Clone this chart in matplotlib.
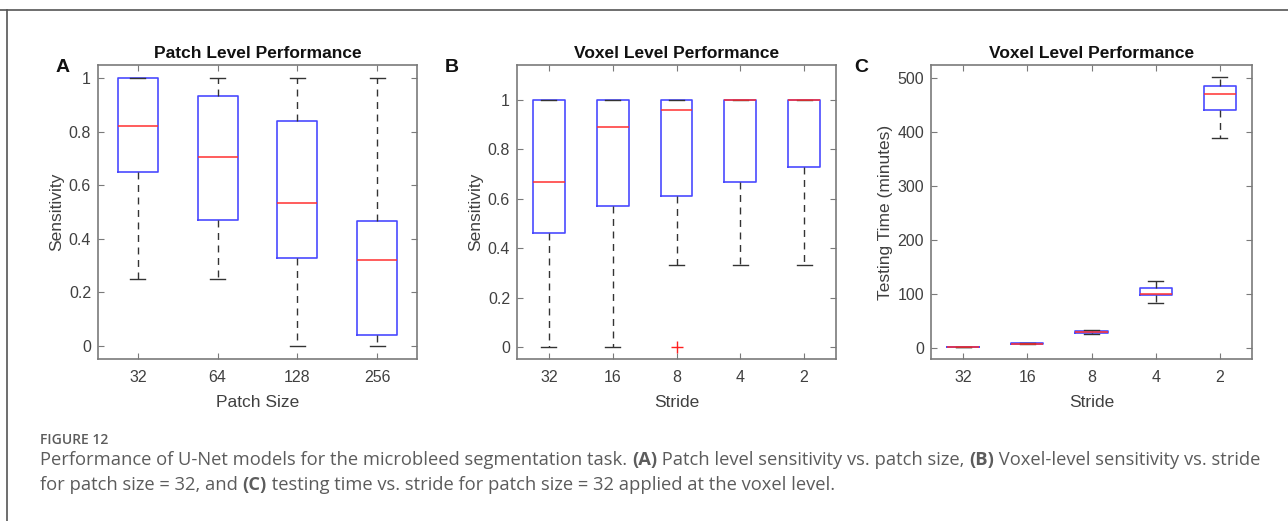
import numpy as np
import matplotlib.pyplot as plt
from matplotlib.lines import Line2D

plt.rcParams['font.family'] = ['Liberation Sans', 'DejaVu Sans']

# Panel A: patch level sensitivity vs patch size
a_labels = ['32', '64', '128', '256']
a_med = [0.82, 0.705, 0.535, 0.32]
a_q1 = [0.65, 0.47, 0.33, 0.04]
a_q3 = [1.0, 0.935, 0.84, 0.465]
a_lo = [0.25, 0.25, 0.0, 0.0]
a_hi = [1.0, 1.0, 1.0, 1.0]
a_fliers = [[], [], [], []]

# Panel B: voxel level sensitivity vs stride
b_labels = ['32', '16', '8', '4', '2']
b_med = [0.667, 0.89, 0.96, 1.0, 1.0]
b_q1 = [0.46, 0.57, 0.613, 0.667, 0.73]
b_q3 = [1.0, 1.0, 1.0, 1.0, 1.0]
b_lo = [0.0, 0.0, 0.333, 0.333, 0.333]
b_hi = [1.0, 1.0, 1.0, 1.0, 1.0]
b_fliers = [[], [], [0.0], [], []]

# Panel C: testing time (minutes) vs stride
c_labels = ['32', '16', '8', '4', '2']
c_med = [2, 8, 30, 100, 471]
c_q1 = [2, 7, 28, 98, 441]
c_q3 = [2, 9, 32, 112, 486]
c_lo = [2, 7, 26, 84, 389]
c_hi = [2, 10, 34, 124, 501]
c_fliers = [[], [], [], [], []]

W, H = 1288, 521
fig = plt.figure(figsize=(W / 100, H / 100), dpi=100)

frame_col = '#7a7a7a'
txt_col = '#404040'


def make_stats(labels, med, q1, q3, lo, hi, fl):
    return [dict(label=l, med=m, q1=a, q3=b, whislo=w0, whishi=w1, fliers=f)
            for l, m, a, b, w0, w1, f in zip(labels, med, q1, q3, lo, hi, fl)]


def draw_panel(rect, stats, capw, title, xlabel, ylabel, ylim, yticks, yticklabels, letter, letter_x):
    ax = fig.add_axes(rect)
    ax.bxp(stats, widths=0.5, capwidths=capw,
           boxprops=dict(color='#4a4aff', linewidth=1.2),
           medianprops=dict(color='#ff3030', linewidth=1.1),
           whiskerprops=dict(color='#333333', linewidth=1.0, linestyle=(0, (5, 4))),
           capprops=dict(color='#333333', linewidth=1.0),
           flierprops=dict(marker='+', markeredgecolor='#ff2020', markersize=9, linestyle='none'))
    n = len(stats)
    ax.set_xlim(0.5, n + 0.5)
    ax.set_ylim(*ylim)
    ax.set_yticks(yticks)
    ax.set_yticklabels(yticklabels)
    ax.tick_params(direction='in', length=4, width=0.8, top=True, right=True,
                   color=frame_col, labelcolor=txt_col, labelsize=11.5, pad=5)
    ax.tick_params(axis='x', pad=8)
    for s in ax.spines.values():
        s.set_color(frame_col)
        s.set_linewidth(1.2)
    ax.set_title(title, fontsize=12.5, fontweight='bold', color='#111111', pad=5)
    ax.set_xlabel(xlabel, fontsize=12.5, color=txt_col, labelpad=7)
    ax.set_ylabel(ylabel, fontsize=12.5, color=txt_col, labelpad=3)
    fig.text(letter_x, 0.871, letter, fontsize=14, fontweight='bold', ha='center', va='center', color='#111111')
    return ax


sens_ticks = [0, 0.2, 0.4, 0.6, 0.8, 1.0]
sens_lbls = ['0', '0.2', '0.4', '0.6', '0.8', '1']

draw_panel([98 / W, 1 - 359 / H, 319 / W, 294 / H],
           make_stats(a_labels, a_med, a_q1, a_q3, a_lo, a_hi, a_fliers), 0.19,
           'Patch Level Performance', 'Patch Size', 'Sensitivity',
           (-0.049, 1.049), sens_ticks, sens_lbls, 'A', 63 / W)

draw_panel([517 / W, 1 - 359 / H, 319 / W, 294 / H],
           make_stats(b_labels, b_med, b_q1, b_q3, b_lo, b_hi, b_fliers), 0.235,
           'Voxel Level Performance', 'Stride', 'Sensitivity',
           (-0.049, 1.142), sens_ticks, sens_lbls, 'B', 452 / W)

draw_panel([931 / W, 1 - 359 / H, 321 / W, 294 / H],
           make_stats(c_labels, c_med, c_q1, c_q3, c_lo, c_hi, c_fliers), 0.235,
           'Voxel Level Performance', 'Stride', 'Testing Time (minutes)',
           (-20, 524), [0, 100, 200, 300, 400, 500], ['0', '100', '200', '300', '400', '500'],
           'C', 861 / W)

# figure frame (top and left rules)
fig.add_artist(Line2D([0, 1], [1 - 10 / H, 1 - 10 / H], transform=fig.transFigure, color='#555555', linewidth=1.2))
fig.add_artist(Line2D([7 / W, 7 / W], [0, 1 - 10 / H], transform=fig.transFigure, color='#555555', linewidth=1.2))

# caption
cap = fig.add_axes([0, 0, 1, 1])
cap.axis('off')
cap.set_zorder(-1)
cap_x = 40 / W
cap_kw = dict(family=['Open Sans', 'DejaVu Sans'], fontsize=13.2, color='#5c5c5c')
cap.text(cap_x, 1 - 440 / H, 'FIGURE 12', family=['Open Sans', 'DejaVu Sans'], fontsize=10,
         fontweight='semibold', color='#5c5c5c', va='center')

line1 = [('Performance of U-Net models for the microbleed segmentation task. ', 'normal'),
         ('(A)', 'bold'),
         (' Patch level sensitivity vs. patch size, ', 'normal'),
         ('(B)', 'bold'),
         (' Voxel-level sensitivity vs. stride', 'normal')]
line2 = [('for patch size = 32, and ', 'normal'),
         ('(C)', 'bold'),
         (' testing time vs. stride for patch size = 32 applied at the voxel level.', 'normal')]


def caption_line(parts, y):
    t = cap.text(cap_x, y, parts[0][0], fontweight=parts[0][1], va='baseline', **cap_kw)
    for s, w in parts[1:]:
        t = cap.annotate(s, xy=(1, 0), xycoords=t, va='bottom', ha='left',
                         fontweight=w, annotation_clip=False, **cap_kw)


caption_line(line1, 1 - 465 / H)
caption_line(line2, 1 - 490 / H)

fig.savefig('out.png', dpi=100)
